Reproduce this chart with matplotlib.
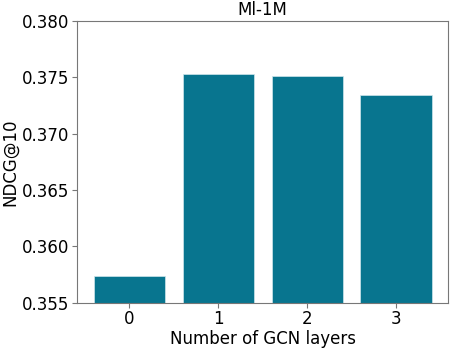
import matplotlib
matplotlib.use("Agg")
from matplotlib import pyplot as plt

layers = [0, 1, 2, 3]
ndcg = [0.3574, 0.3753, 0.3751, 0.3734]

fig, ax = plt.subplots(figsize=(4.53, 3.48), dpi=100)
ax.bar(layers, ndcg, width=0.8, color='#08758f', edgecolor='#cfe6ec', linewidth=0.5)
ax.set_ylim(0.355, 0.380)
ax.set_xticks(layers)
ax.set_yticks([0.355, 0.360, 0.365, 0.370, 0.375, 0.380])
ax.set_title('Ml-1M', fontsize=12, pad=4)
ax.set_xlabel('Number of GCN layers', fontsize=12, labelpad=1)
ax.set_ylabel('NDCG@10', fontsize=12, labelpad=2)
ax.tick_params(labelsize=12, color='#777777', pad=2)
for s in ax.spines.values():
    s.set_color('#777777')
fig.subplots_adjust(left=0.17, right=0.99, top=0.94, bottom=0.13)
fig.savefig('out.png')
